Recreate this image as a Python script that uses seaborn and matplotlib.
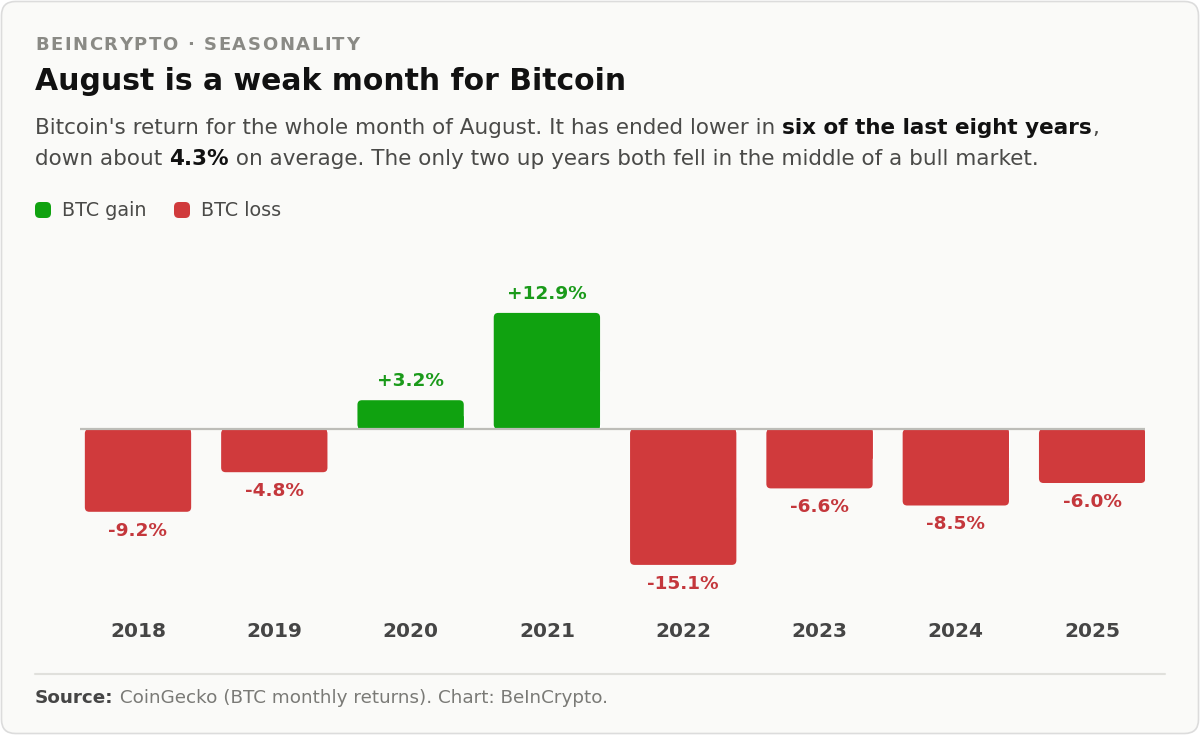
import pandas as pd
import matplotlib.pyplot as plt
import seaborn as sns
from matplotlib.patches import FancyBboxPatch
from matplotlib.lines import Line2D

# Data
years = ["2018", "2019", "2020", "2021", "2022", "2023", "2024", "2025"]
returns = [-9.2, -4.8, 3.2, 12.9, -15.1, -6.6, -8.5, -6.0]

GREEN = "#10a210"
RED = "#d03a3c"
GREEN_TXT = "#1a9a1a"
RED_TXT = "#c4373c"
CARD = "#fafaf8"

df = pd.DataFrame({"year": years, "ret": returns})
df["kind"] = ["BTC gain" if r > 0 else "BTC loss" for r in df["ret"]]

sns.set_theme(style="white")
plt.rcParams["font.family"] = ["DejaVu Sans"]

W, H = 1200, 735
fig = plt.figure(figsize=(W / 100, H / 100), dpi=100)
fig.patch.set_facecolor("white")

# card background
card = FancyBboxPatch((0.015, 0.015), W / 100 - 0.03, H / 100 - 0.03,
                      boxstyle="round,pad=0,rounding_size=0.14",
                      transform=fig.dpi_scale_trans, facecolor=CARD,
                      edgecolor="#dcdcdc", linewidth=1.2, zorder=-10)
fig.patches.append(card)

# axes placement (pixel based)
ax_l, ax_r, ax_t, ax_b = 80, 1145, 250, 600
ax = fig.add_axes([ax_l / W, 1 - ax_b / H, (ax_r - ax_l) / W, (ax_b - ax_t) / H])
ax.set_facecolor("none")

sns.barplot(data=df, x="year", y="ret", hue="kind",
            palette={"BTC gain": GREEN, "BTC loss": RED},
            dodge=False, width=0.78, saturation=1, legend=False, ax=ax)

ax.set_xlim(-0.4255, 7.388)
ax.set_ylim(-19.0, 19.89)
ax.axhline(0, color="#bdbdb8", linewidth=1.6, zorder=5)

# value labels
for cont in ax.containers:
    vals = cont.datavalues
    if len(vals) == 0:
        continue
    col = GREEN_TXT if vals[0] > 0 else RED_TXT
    ax.bar_label(cont, fmt=lambda v: f"{v:+.1f}%" if v > 0 else f"{v:.1f}%",
                 padding=7, color=col, fontsize=13.3, fontweight="bold")

# round the outer end of each bar
px_x = (ax_r - ax_l) / (7.388 + 0.4255)
px_y = (ax_b - ax_t) / (19.89 + 19.0)
for p in list(ax.patches):
    x0, y0 = p.get_x(), p.get_y()
    w, h = p.get_width(), p.get_height()
    if abs(h) < 1e-9:
        continue
    ybot = min(y0, y0 + h)
    rb = FancyBboxPatch((x0, ybot), w, abs(h),
                        boxstyle=f"round,pad=0,rounding_size={4.5 / px_x}",
                        mutation_aspect=px_x / px_y,
                        facecolor=p.get_facecolor(), edgecolor="none", zorder=2)
    ax.add_patch(rb)
    # keep the zero end square
    p.set_height(h / 2)

sns.despine(ax=ax, left=True, bottom=True)
ax.set_yticks([])
ax.set_xlabel("")
ax.set_ylabel("")
ax.tick_params(axis="x", length=0, pad=15.5)
for lab in ax.get_xticklabels():
    lab.set_fontsize(14.5)
    lab.set_fontweight("bold")
    lab.set_color("#454545")


def fx(px):
    return px / W


def fy(py):
    return 1 - py / H


renderer = fig.canvas.get_renderer()


def rich_line(x_px, y_px, parts, size=15.5):
    x = x_px
    for txt, weight, color in parts:
        t = fig.text(fx(x), fy(y_px), txt, fontsize=size, fontweight=weight,
                     color=color, va="center", ha="left")
        x += t.get_window_extent(renderer).width


def spaced_text(x_px, y_px, s, spacing, **kw):
    x = x_px
    for ch in s:
        t = fig.text(fx(x), fy(y_px), ch, va="center", ha="left", **kw)
        x += t.get_window_extent(renderer).width + spacing


# header text
spaced_text(35, 45, "BEINCRYPTO · SEASONALITY", 1.6, fontsize=13,
            fontweight="bold", color="#8a8a85")
fig.text(fx(35), fy(81), "August is a weak month for Bitcoin", fontsize=21.5,
         fontweight="bold", color="#111111", va="center", ha="left")

SUB = "#4a4a48"
rich_line(35, 128, [
    ("Bitcoin's return for the whole month of August. It has ended lower in ", "normal", SUB),
    ("six of the last eight years", "bold", "#111111"),
    (",", "normal", SUB),
])
rich_line(35, 159, [
    ("down about ", "normal", SUB),
    ("4.3%", "bold", "#111111"),
    (" on average. The only two up years both fell in the middle of a bull market.", "normal", SUB),
])

# legend
leg_items = [("BTC gain", GREEN, 35), ("BTC loss", RED, 174)]
for name, col, xp in leg_items:
    sq = FancyBboxPatch((fx(xp), fy(218)), 16 / W, 16 / H,
                        boxstyle="round,pad=0,rounding_size=0.004",
                        transform=fig.transFigure, facecolor=col,
                        edgecolor="none", mutation_aspect=W / H)
    fig.patches.append(sq)
    fig.text(fx(xp + 27), fy(210), name, fontsize=13.8, color=SUB,
             va="center", ha="left")

# footer
fig.lines.append(Line2D([fx(35), fx(1165)], [fy(674), fy(674)],
                        transform=fig.transFigure, color="#e0e0dc", linewidth=1.5))
rich_line(35, 698, [
    ("Source:", "bold", "#454545"),
    (" CoinGecko (BTC monthly returns). Chart: BeInCrypto.", "normal", "#7a7a76"),
], size=13.2)

fig.savefig("out.png", dpi=100, facecolor=fig.get_facecolor())
